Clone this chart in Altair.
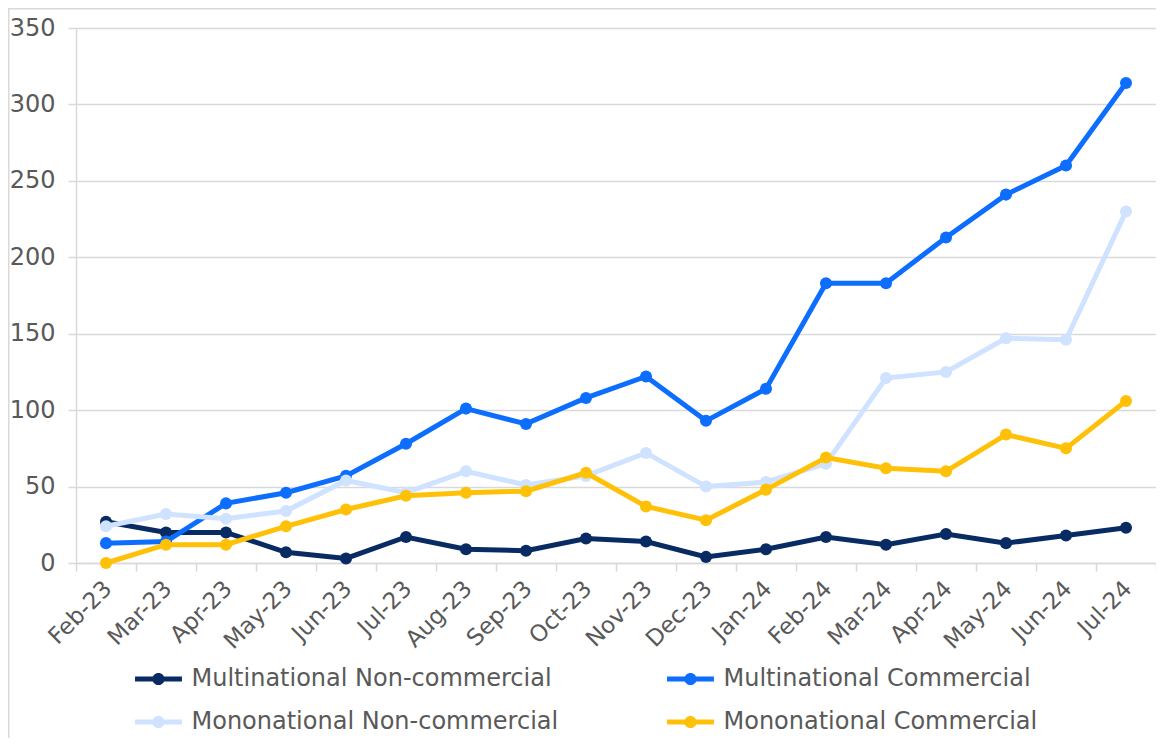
import altair as alt
import pandas as pd

months = ["Feb-23", "Mar-23", "Apr-23", "May-23", "Jun-23", "Jul-23", "Aug-23", "Sep-23",
          "Oct-23", "Nov-23", "Dec-23", "Jan-24", "Feb-24", "Mar-24", "Apr-24", "May-24",
          "Jun-24", "Jul-24"]

series_names = ["Multinational Non-commercial", "Multinational Commercial",
                "Mononational Non-commercial", "Mononational Commercial"]

multi_noncomm = [27, 20, 20, 7, 3, 17, 9, 8, 16, 14, 4, 9, 17, 12, 19, 13, 18, 23]
multi_comm = [13, 14, 39, 46, 57, 78, 101, 91, 108, 122, 93, 114, 183, 183, 213, 241, 260, 314]
mono_noncomm = [24, 32, 29, 34, 54, 46, 60, 51, 57, 72, 50, 53, 65, 121, 125, 147, 146, 230]
mono_comm = [0, 12, 12, 24, 35, 44, 46, 47, 59, 37, 28, 48, 69, 62, 60, 84, 75, 106]

colors = ["#082b63", "#0d6efd", "#cfe2ff", "#ffc107"]

all_values = [multi_noncomm, multi_comm, mono_noncomm, mono_comm]
rows = []
for name, vals in zip(series_names, all_values):
    for m, v in zip(months, vals):
        rows.append({"month": m, "series": name, "value": v})
df = pd.DataFrame(rows)

FONT = "DejaVu Sans"
GRID = "#d9d9d9"
TEXT = "#595959"

legend_path = ("M-1.38,-0.15 L1.38,-0.15 L1.38,0.15 L-1.38,0.15 Z "
               "M0.36,0 A0.36,0.36 0 1,1 -0.36,0 A0.36,0.36 0 1,1 0.36,0 Z")

x_enc = alt.X("month:N", sort=months, title=None,
              scale=alt.Scale(type="band", paddingInner=0, paddingOuter=0),
              axis=alt.Axis(labelAngle=-45, tickBand="extent", grid=False, tickSize=8,
                            tickColor=GRID, tickWidth=1.5, domainColor=GRID, domainWidth=1.5,
                            labelFontSize=23, labelColor=TEXT, labelFont=FONT,
                            labelPadding=6, labelOffset=-6))
y_enc = alt.Y("value:Q", title=None,
              scale=alt.Scale(domain=[0, 350], nice=False),
              axis=alt.Axis(values=[0, 50, 100, 150, 200, 250, 300, 350], tickSize=8,
                            tickColor=GRID, tickWidth=1.5, domainColor=GRID, domainWidth=1.5,
                            gridColor=GRID, gridWidth=1.5, labelFontSize=24, labelColor=TEXT,
                            labelFont=FONT, labelPadding=13))
c_enc = alt.Color("series:N", scale=alt.Scale(domain=series_names, range=colors), title=None,
                  legend=alt.Legend(orient="none", legendX=65.5, legendY=634, columns=2,
                                    direction="horizontal", symbolType=legend_path,
                                    symbolSize=1156, symbolStrokeWidth=0, symbolOpacity=1,
                                    labelFontSize=24, labelColor=TEXT, labelFont=FONT,
                                    labelOffset=16, columnPadding=108, rowPadding=14,
                                    padding=0, labelLimit=600))

base = alt.Chart(df)
layers = []
for name in series_names:
    pts = base.mark_point(filled=True, size=145, opacity=1).encode(
        x=x_enc, y=y_enc, color=c_enc).transform_filter(alt.datum.series == name)
    line = base.mark_line(strokeWidth=5).encode(
        x=x_enc, y=y_enc, color=c_enc).transform_filter(alt.datum.series == name)
    layers += [pts, line]

border = alt.Chart(alt.Data(values=[{"a": 1}])).mark_rect(
    fill="transparent", stroke=GRID, strokeWidth=1.5).encode(
    x=alt.value(-67.25), x2=alt.value(1300), y=alt.value(-19.25), y2=alt.value(900))

chart = alt.layer(border, *layers).properties(
    width=1080, height=535,
    autosize=alt.AutoSizeParams(type="none"),
    padding={"left": 68, "top": 20, "right": 0, "bottom": 175},
).configure_view(stroke="transparent")

chart.save("out.html", embed_options={"renderer": "svg", "actions": False})
